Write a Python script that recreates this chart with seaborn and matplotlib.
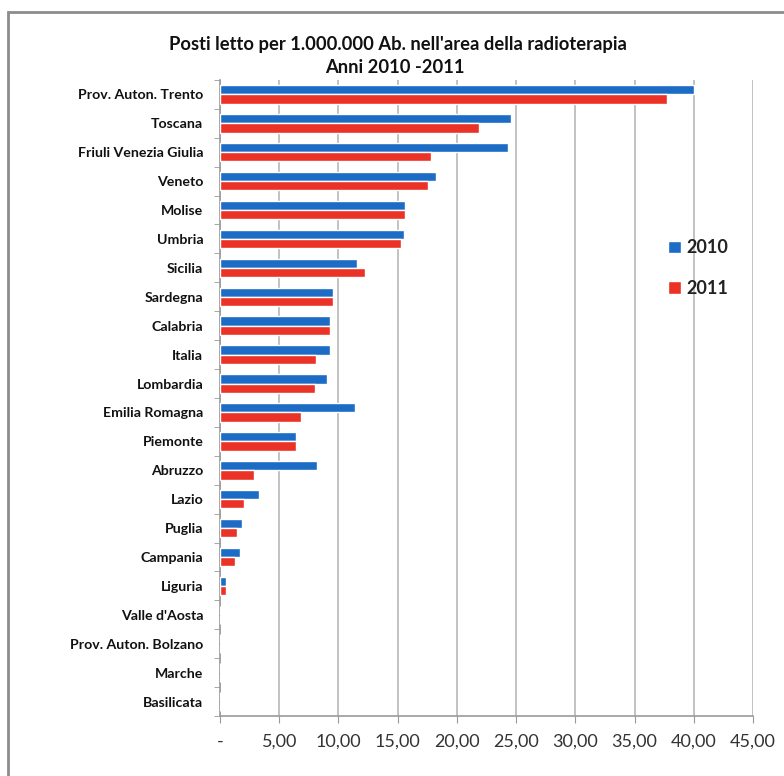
import pandas as pd
import matplotlib
import matplotlib.pyplot as plt
import seaborn as sns
from matplotlib.patches import Rectangle
matplotlib.use('Agg')

regioni = ["Prov. Auton. Trento", "Toscana", "Friuli Venezia Giulia", "Veneto", "Molise",
           "Umbria", "Sicilia", "Sardegna", "Calabria", "Italia", "Lombardia",
           "Emilia Romagna", "Piemonte", "Abruzzo", "Lazio", "Puglia", "Campania",
           "Liguria", "Valle d'Aosta", "Prov. Auton. Bolzano", "Marche", "Basilicata"]
anni = ["2010", "2011"]
valori_2010 = [40.0, 24.6, 24.3, 18.2, 15.6, 15.5, 11.6, 9.5, 9.3, 9.3, 9.0,
               11.4, 6.4, 8.2, 3.3, 1.9, 1.7, 0.5, 0, 0, 0, 0]
valori_2011 = [37.7, 21.9, 17.8, 17.6, 15.6, 15.3, 12.2, 9.5, 9.3, 8.1, 8.0,
               6.8, 6.4, 2.9, 2.0, 1.4, 1.3, 0.5, 0, 0, 0, 0]
xticks = [0, 5, 10, 15, 20, 25, 30, 35, 40, 45]
xlabels = ["-", "5,00", "10,00", "15,00", "20,00", "25,00", "30,00", "35,00", "40,00", "45,00"]

df = pd.DataFrame({
    'regione': regioni * 2,
    'anno': [anni[0]] * len(regioni) + [anni[1]] * len(regioni),
    'valore': valori_2010 + valori_2011,
})

sns.set_style('white')
plt.rcParams['font.family'] = ['Lato', 'DejaVu Sans']

fig = plt.figure(figsize=(7.84, 7.76), dpi=100)
ax = fig.add_axes([0.2806, 0.0773, 0.6799, 0.8197])

# bordo esterno del grafico
fig.patches.append(Rectangle((8 / 784, -0.05), 1.0, 1 - 12 / 776 + 0.05, transform=fig.transFigure,
                             fill=False, edgecolor='#8c8c8c', linewidth=2, zorder=0))

sns.barplot(data=df, y='regione', x='valore', hue='anno', orient='h', ax=ax,
            palette=['#1c6cc6', '#ea3326'], width=0.64, saturation=1, zorder=3)

ax.set_xlim(0, 45)
ax.set_ylim(len(regioni) - 0.5, -0.5)
ax.set_xticks(xticks)
ax.set_xticklabels(xlabels, fontsize=13, color='#333333')
ax.set_yticks(range(len(regioni)))
ax.set_yticklabels(regioni, fontsize=10.2, fontweight='bold', color='#111111')
ax.set_yticks([i + 0.5 for i in range(-1, len(regioni))], minor=True)
ax.tick_params(axis='y', which='major', length=0, pad=12)
ax.tick_params(axis='y', which='minor', length=4, color='#999999', direction='out', left=True)
ax.tick_params(axis='x', which='major', length=5, color='#999999', direction='out', bottom=True, pad=8)
ax.set_xlabel('')
ax.set_ylabel('')

ax.grid(axis='x', color='#bdbdbd', linewidth=1.3, zorder=0)
ax.set_axisbelow(True)
for s in ['top', 'right']:
    ax.spines[s].set_visible(False)
for s in ['left', 'bottom']:
    ax.spines[s].set_color('#999999')
    ax.spines[s].set_linewidth(1.2)

leg = ax.legend(loc='upper left', bbox_to_anchor=(0.81, 0.775), frameon=False,
                handlelength=0.7, handleheight=0.7, handletextpad=0.3, labelspacing=1.3,
                prop={'weight': 'bold', 'size': 13})
for t in leg.get_texts():
    t.set_color('#222222')

fig.text(0.508, 0.943, "Posti letto per 1.000.000 Ab. nell'area della radioterapia",
         ha='center', va='center', fontsize=13.2, fontweight='bold', color='#111111')
fig.text(0.504, 0.913, "Anni 2010 -2011", ha='center', va='center',
         fontsize=13.2, fontweight='bold', color='#111111')

fig.savefig('out.png', dpi=100)
